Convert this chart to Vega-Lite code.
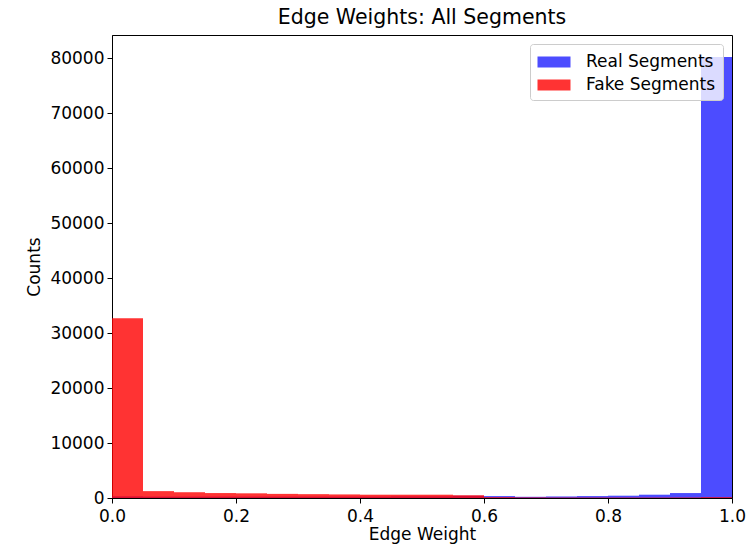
{
  "$schema": "https://vega.github.io/schema/vega-lite/v6.json",
  "autosize": {"type": "none"},
  "width": 620,
  "height": 463,
  "padding": {"left": 112, "top": 35, "right": 16, "bottom": 52},
  "background": "white",
  "title": {"text": "Edge Weights: All Segments", "font": "DejaVu Sans", "fontSize": 20.5, "fontWeight": "normal", "color": "black", "offset": 7},
  "config": {
    "view": {"stroke": "black", "strokeWidth": 1},
    "axis": {"labelFont": "DejaVu Sans", "titleFont": "DejaVu Sans", "labelFontSize": 17, "titleFontSize": 17, "titleFontWeight": "normal", "labelColor": "black", "titleColor": "black", "tickColor": "black", "domainColor": "black", "grid": false, "tickSize": 5, "labelFlush": false}
  },
  "datasets": {
    "hist": [
      {"series": "Real Segments", "lo": 0.00, "hi": 0.05, "count": 300},
      {"series": "Real Segments", "lo": 0.05, "hi": 0.10, "count": 250},
      {"series": "Real Segments", "lo": 0.10, "hi": 0.15, "count": 250},
      {"series": "Real Segments", "lo": 0.15, "hi": 0.20, "count": 250},
      {"series": "Real Segments", "lo": 0.20, "hi": 0.25, "count": 250},
      {"series": "Real Segments", "lo": 0.25, "hi": 0.30, "count": 250},
      {"series": "Real Segments", "lo": 0.30, "hi": 0.35, "count": 250},
      {"series": "Real Segments", "lo": 0.35, "hi": 0.40, "count": 250},
      {"series": "Real Segments", "lo": 0.40, "hi": 0.45, "count": 250},
      {"series": "Real Segments", "lo": 0.45, "hi": 0.50, "count": 300},
      {"series": "Real Segments", "lo": 0.50, "hi": 0.55, "count": 300},
      {"series": "Real Segments", "lo": 0.55, "hi": 0.60, "count": 400},
      {"series": "Real Segments", "lo": 0.60, "hi": 0.65, "count": 350},
      {"series": "Real Segments", "lo": 0.65, "hi": 0.70, "count": 220},
      {"series": "Real Segments", "lo": 0.70, "hi": 0.75, "count": 280},
      {"series": "Real Segments", "lo": 0.75, "hi": 0.80, "count": 350},
      {"series": "Real Segments", "lo": 0.80, "hi": 0.85, "count": 420},
      {"series": "Real Segments", "lo": 0.85, "hi": 0.90, "count": 600},
      {"series": "Real Segments", "lo": 0.90, "hi": 0.95, "count": 900},
      {"series": "Real Segments", "lo": 0.95, "hi": 1.00, "count": 80200},
      {"series": "Fake Segments", "lo": 0.00, "hi": 0.05, "count": 32700},
      {"series": "Fake Segments", "lo": 0.05, "hi": 0.10, "count": 1250},
      {"series": "Fake Segments", "lo": 0.10, "hi": 0.15, "count": 1050},
      {"series": "Fake Segments", "lo": 0.15, "hi": 0.20, "count": 900},
      {"series": "Fake Segments", "lo": 0.20, "hi": 0.25, "count": 850},
      {"series": "Fake Segments", "lo": 0.25, "hi": 0.30, "count": 750},
      {"series": "Fake Segments", "lo": 0.30, "hi": 0.35, "count": 700},
      {"series": "Fake Segments", "lo": 0.35, "hi": 0.40, "count": 650},
      {"series": "Fake Segments", "lo": 0.40, "hi": 0.45, "count": 600},
      {"series": "Fake Segments", "lo": 0.45, "hi": 0.50, "count": 600},
      {"series": "Fake Segments", "lo": 0.50, "hi": 0.55, "count": 600},
      {"series": "Fake Segments", "lo": 0.55, "hi": 0.60, "count": 500},
      {"series": "Fake Segments", "lo": 0.60, "hi": 0.65, "count": 150},
      {"series": "Fake Segments", "lo": 0.65, "hi": 0.70, "count": 100},
      {"series": "Fake Segments", "lo": 0.70, "hi": 0.75, "count": 80},
      {"series": "Fake Segments", "lo": 0.75, "hi": 0.80, "count": 80},
      {"series": "Fake Segments", "lo": 0.80, "hi": 0.85, "count": 80},
      {"series": "Fake Segments", "lo": 0.85, "hi": 0.90, "count": 80},
      {"series": "Fake Segments", "lo": 0.90, "hi": 0.95, "count": 90},
      {"series": "Fake Segments", "lo": 0.95, "hi": 1.00, "count": 150}
    ]
  },
  "data": {"name": "hist"},
  "mark": {"type": "rect", "strokeWidth": 0},
  "encoding": {
    "x": {"field": "lo", "type": "quantitative", "scale": {"domain": [0, 1], "nice": false, "zero": false}, "axis": {"title": "Edge Weight", "values": [0, 0.2, 0.4, 0.6, 0.8, 1.0], "format": ".1f", "labelPadding": 5, "titlePadding": 2}},
    "x2": {"field": "hi"},
    "y": {"field": "count", "type": "quantitative", "stack": null, "scale": {"domain": [0, 84200], "nice": false}, "axis": {"title": "Counts", "values": [0, 10000, 20000, 30000, 40000, 50000, 60000, 70000, 80000], "format": "d", "labelPadding": 3, "titlePadding": 6}},
    "y2": {"datum": 0},
    "color": {"field": "series", "type": "nominal", "scale": {"domain": ["Real Segments", "Fake Segments"], "range": ["#0000ff", "#ff0000"]}, "legend": {"title": null, "orient": "none", "legendX": 418, "legendY": 9, "labelFont": "DejaVu Sans", "labelFontSize": 17, "labelColor": "black", "symbolType": "M-1.5,-0.5H1.5V0.5H-1.5Z", "symbolSize": 484, "symbolOpacity": 0.75, "symbolStrokeWidth": 0, "rowPadding": 4, "labelOffset": 21, "padding": 7, "strokeColor": "#cccccc", "fillColor": "rgba(255,255,255,0.8)", "cornerRadius": 3, "symbolOffset": 6}},
    "opacity": {"field": "series", "type": "nominal", "scale": {"domain": ["Real Segments", "Fake Segments"], "range": [0.7, 0.8]}, "legend": null},
    "order": {"field": "series", "sort": "descending"}
  }
}
